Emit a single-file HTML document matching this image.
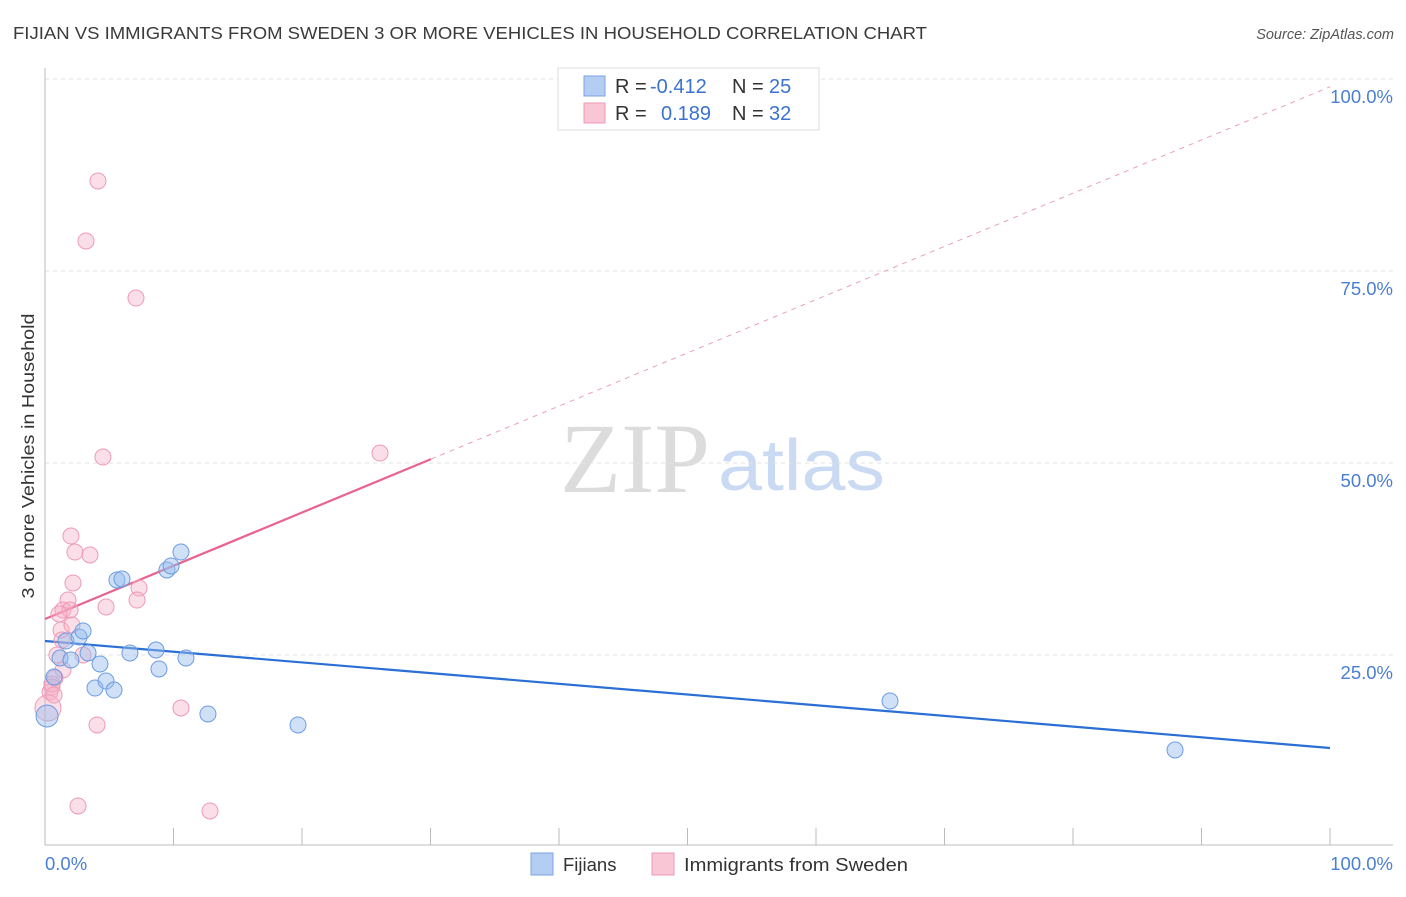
<!DOCTYPE html>
<html><head><meta charset="utf-8"><style>
body{margin:0;background:#fff;font-family:"Liberation Sans",sans-serif}
svg text{font-family:"Liberation Sans",sans-serif}
</style></head><body>
<svg id="c" width="1406" height="892" xmlns="http://www.w3.org/2000/svg">
<text x="13" y="39" font-size="17.5" fill="#3a3a3a" textLength="914" lengthAdjust="spacingAndGlyphs">FIJIAN VS IMMIGRANTS FROM SWEDEN 3 OR MORE VEHICLES IN HOUSEHOLD CORRELATION CHART</text>
<text x="1394" y="39" font-size="14.5" fill="#555" font-style="italic" text-anchor="end">Source: ZipAtlas.com</text>
<text x="635" y="492" font-size="100" fill="#dcdcdc" text-anchor="middle" style="font-family:'Liberation Serif',serif">ZIP</text>
<text x="718" y="490" font-size="72" fill="#c9daf2" textLength="167" lengthAdjust="spacingAndGlyphs">atlas</text>
<g id="grid"></g><g id="axes"></g><g id="trend"></g><g id="pts"></g>
<text x="34" y="456" font-size="17.5" fill="#333" text-anchor="middle" textLength="285" lengthAdjust="spacingAndGlyphs" transform="rotate(-90 34 456)">3 or more Vehicles in Household</text>
<g>
<rect x="558" y="68" width="261" height="62" fill="#fff" stroke="#ddd"/>
<rect x="584" y="76" width="21" height="20" fill="#b4cdf3" stroke="#7ba3e3"/>
<rect x="584" y="103" width="21" height="20" fill="#f8c6d5" stroke="#ee9ab5"/>
<text x="615" y="93" font-size="20" fill="#333">R = </text><text x="650" y="93" font-size="20" fill="#3b72d0">-0.412</text>
<text x="732" y="93" font-size="20" fill="#333">N = </text><text x="769" y="93" font-size="20" fill="#3b72d0">25</text>
<text x="615" y="120" font-size="20" fill="#333">R = </text><text x="661" y="120" font-size="20" fill="#3b72d0">0.189</text>
<text x="732" y="120" font-size="20" fill="#333">N = </text><text x="769" y="120" font-size="20" fill="#3b72d0">32</text>
</g>
<g>
<rect x="531" y="853" width="22" height="22" fill="#b4cdf3" stroke="#7ba3e3"/>
<text x="563" y="871" font-size="18.5" fill="#333">Fijians</text>
<rect x="652" y="853" width="22" height="22" fill="#f8c6d5" stroke="#ee9ab5"/>
<text x="684" y="871" font-size="18.5" fill="#333" textLength="224" lengthAdjust="spacingAndGlyphs">Immigrants from Sweden</text>
</g>
</svg>
<script>
const blueX=[0.16,0.70,1.17,1.63,2.02,2.65,2.96,3.35,3.89,4.28,4.75,5.37,5.60,5.99,6.61,8.64,8.87,9.49,9.81,10.58,10.97,12.68,19.69,65.76,87.94];
const blueY=[17.06,22.14,24.61,26.82,24.35,27.34,28.13,25.26,20.70,23.83,21.61,20.44,34.77,34.90,25.26,25.65,23.18,36.07,36.59,38.41,24.61,17.32,15.89,19.01,12.63];
const pinkX=[4.12,3.19,7.08,4.51,26.07,2.02,2.33,3.50,2.18,1.79,1.40,1.95,4.75,7.32,7.16,1.09,1.25,2.10,1.32,0.93,2.96,1.40,0.78,0.54,0.39,0.23,4.05,10.58,2.57,12.84,0.54,0.70];
const pinkY=[86.72,78.91,71.48,50.78,51.30,40.49,38.41,38.02,34.38,32.16,30.86,30.86,31.25,33.72,32.16,30.34,28.26,28.91,26.95,25.0,25.0,23.05,22.01,20.83,20.18,18.10,15.89,18.10,5.34,4.69,21.22,19.79];
const blueTrend=[26.82,-0.1393];
const pinkTrend=[29.69,0.693];
const pinkSolidEnd=30.04;
const yTicks=[25,50,75,100];
const yTickLabels=["25.0%","50.0%","75.0%","100.0%"];
const NS="http://www.w3.org/2000/svg";
const sx=v=>45+v*12.85, sy=v=>847-v*7.68;
function mk(p,t,a){const e=document.createElementNS(NS,t);for(const k in a)e.setAttribute(k,a[k]);document.getElementById(p).appendChild(e);return e;}
yTicks.forEach((t,i)=>{
 const g=mk('grid','line',{x1:45,x2:1393,y1:sy(t),y2:sy(t),stroke:'#e2e2e2','stroke-dasharray':'4,4'});
 
 
 const l=mk('grid','text',{x:1393,y:sy(t)+24,'font-size':18.5,fill:'#4a7fd4','text-anchor':'end'});l.textContent=yTickLabels[i];
 
 
});
let a=mk('axes','line',{x1:45,x2:45,y1:68,y2:845,stroke:'#bbb'});


a=mk('axes','line',{x1:45,x2:1393,y1:845,y2:845,stroke:'#bbb'});


for(let i=0;i<=10;i++){const t=mk('axes','line',{x1:sx(i*10),x2:sx(i*10),y1:828,y2:845,stroke:'#bbb'});
 
 }
let t0=mk('axes','text',{x:45,y:870,'font-size':18.5,fill:'#4a7fd4'});t0.textContent='0.0%';


let t1=mk('axes','text',{x:1393,y:870,'font-size':18.5,fill:'#4a7fd4','text-anchor':'end'});t1.textContent='100.0%';


const f=(tr,x)=>tr[0]+tr[1]*x;
let tl=mk('trend','line',{x1:sx(0),y1:sy(f(blueTrend,0)),x2:sx(100),y2:sy(f(blueTrend,100)),stroke:'#2a6fd6','stroke-width':2.2});


tl=mk('trend','line',{x1:sx(0),y1:sy(f(pinkTrend,0)),x2:sx(pinkSolidEnd),y2:sy(f(pinkTrend,pinkSolidEnd)),stroke:'#e8638f','stroke-width':2.2});


tl=mk('trend','line',{x1:sx(pinkSolidEnd),y1:sy(f(pinkTrend,pinkSolidEnd)),x2:sx(100),y2:sy(f(pinkTrend,100)),stroke:'#eaa0b8','stroke-width':1,'stroke-dasharray':'5,5'});


pinkX.forEach((x,i)=>{const c=mk('pts','circle',{cx:sx(x),cy:sy(pinkY[i]),r:(i==25?13:8),fill:'rgba(246,176,198,0.4)',stroke:'#ee9ab5','stroke-width':1});
 
 });
blueX.forEach((x,i)=>{const c=mk('pts','circle',{cx:sx(x),cy:sy(blueY[i]),r:(i==0?11:8),fill:'rgba(150,188,238,0.45)',stroke:'#6b9ce2','stroke-width':1});
 
 });
</script>
</body></html>
